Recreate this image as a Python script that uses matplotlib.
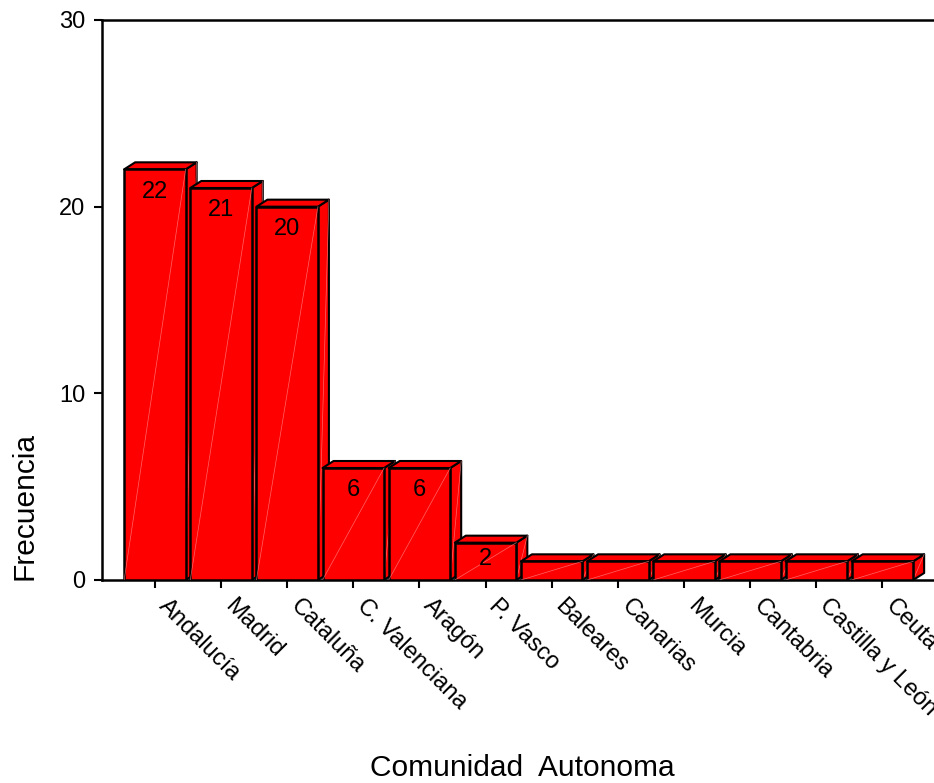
import matplotlib
matplotlib.use("Agg")
import matplotlib.pyplot as plt
from matplotlib.patches import Polygon
from matplotlib.transforms import ScaledTranslation

plt.rcParams['font.family'] = ['Liberation Sans', 'DejaVu Sans']

# frecuencias por comunidad autonoma
comunidades = ['Andalucía', 'Madrid', 'Cataluña', 'C. Valenciana', 'Aragón', 'P. Vasco',
               'Baleares', 'Canarias', 'Murcia', 'Cantabria', 'Castilla y León', 'Ceuta']
frecuencias = [22, 21, 20, 6, 6, 2, 1, 1, 1, 1, 1, 1]
etiquetas = ['22', '21', '20', '6', '6', '2', '', '', '', '', '', '']
yticks = [0, 10, 20, 30]

W, H = 934, 783
fig = plt.figure(figsize=(W / 100, H / 100), dpi=100)
ax = fig.add_axes([102 / W, (H - 580) / H, (W - 102) / W, 560 / H])

ancho = 0.93      # ancho de la cara frontal
dx, dy = 0.166, 0.375   # desplazamiento de la profundidad 3D
rojo = '#ff0000'

for i, (f, lab) in enumerate(zip(frecuencias, etiquetas)):
    x0 = i - ancho / 2
    x1 = i + ancho / 2
    z = 2 + i * 3
    lado = Polygon([(x1, 0), (x1 + dx, dy), (x1 + dx, f + dy), (x1, f)],
                   closed=True, fc=rojo, ec='black', lw=1.5, zorder=z, joinstyle='round')
    techo = Polygon([(x0, f), (x0 + dx, f + dy), (x1 + dx, f + dy), (x1, f)],
                    closed=True, fc=rojo, ec='black', lw=1.5, zorder=z, joinstyle='round')
    frente = Polygon([(x0, 0), (x0, f), (x1, f), (x1, 0)],
                     closed=True, fc=rojo, ec='black', lw=1.8, zorder=z + 1, joinstyle='round')
    ax.add_patch(lado)
    ax.add_patch(techo)
    ax.add_patch(frente)
    # brillo diagonal tenue
    ax.plot([x0, x1], [0, f], color='#ff9090', lw=0.5, alpha=0.7, zorder=z + 1.5)
    ax.plot([x1, x1 + dx], [0, f + dy], color='#ff9090', lw=0.5, alpha=0.7, zorder=z + 0.5)
    if lab:
        yl = max(f - 1.2, f * 0.55)
        ax.text(i, yl, lab, ha='center', va='center', fontsize=17, zorder=z + 2)

ax.set_xlim(-0.8, 11.78)
ax.set_ylim(0, 30)
ax.set_yticks(yticks)
ax.set_xticks(range(len(comunidades)))
ax.set_xticklabels(comunidades, rotation=-45, ha='left', va='center',
                   rotation_mode='anchor', fontsize=17)
ax.tick_params(axis='both', labelsize=17, width=1.5, length=6, direction='out')
ax.tick_params(axis='x', pad=4.3)
ax.tick_params(axis='y', pad=6)
# desplazar las etiquetas giradas un poco a la derecha y abajo
desplaz = ScaledTranslation(7 / 100, -8 / 100, fig.dpi_scale_trans)
for t in ax.get_xticklabels():
    t.set_transform(t.get_transform() + desplaz)
for s in ['left', 'bottom', 'top']:
    ax.spines[s].set_linewidth(1.8)
ax.spines['right'].set_visible(False)
ax.set_facecolor('white')

fig.text(25 / W, (H - 580) / H, 'Frecuencia', rotation=90, ha='center', va='bottom', fontsize=21.5)
fig.text(522 / W, 1 - 768 / H, 'Comunidad  Autonoma', ha='center', va='center', fontsize=21.5)

fig.savefig('out.png', dpi=100)
